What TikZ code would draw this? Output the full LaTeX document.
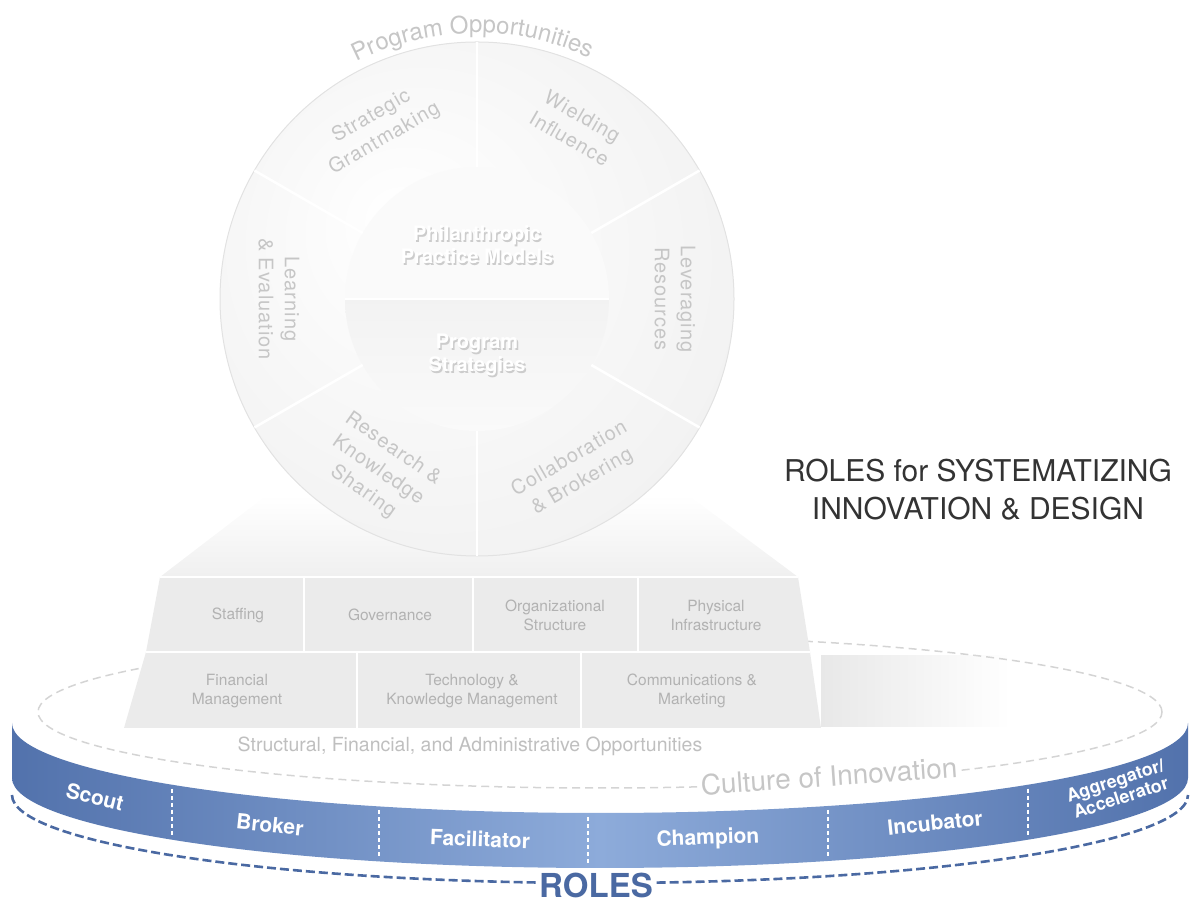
\documentclass[tikz,border=0pt]{standalone}
\usepackage{fontspec}
\setmainfont{TeX Gyre Heros}
\newfontfamily\ringfont[LetterSpace=5]{TeX Gyre Heros}
\usetikzlibrary{positioning,decorations.text,shadings,fadings}

\definecolor{ringtext}{HTML}{C6C6C6}
\definecolor{celltext}{HTML}{B2B2B2}
\definecolor{cellfill}{HTML}{EBEBEB}
\definecolor{titlegray}{HTML}{333333}
\definecolor{roleblue}{HTML}{4A69A2}
\definecolor{banddark}{HTML}{5272AC}
\definecolor{bandlight}{HTML}{8DABDA}
\definecolor{dashgray}{HTML}{D4D4D4}
\definecolor{ringmid}{HTML}{F2F2F2}
\definecolor{ringedge}{HTML}{E2E2E2}

\pgfdeclareradialshading{ringshade}{\pgfpoint{-8bp}{8bp}}{color(0bp)=(white); color(30bp)=(ringmid); color(50bp)=(ringedge)}

\tikzset{
  ringlabel/.style={text=ringtext, font=\ringfont\fontsize{20}{26}\selectfont, align=center},
  hublabel/.style={text=white, font=\bfseries\fontsize{20}{23}\selectfont, align=center},
  hubshadow/.style={text=black!20, font=\bfseries\fontsize{20}{23}\selectfont, align=center},
  celllabel/.style={text=celltext, font=\fontsize{15.5}{19}\selectfont, align=center},
  rolelabel/.style={text=white, font=\bfseries\fontsize{21}{23}\selectfont, align=center},
  divider/.style={white, line width=2.5pt},
  cellline/.style={white, line width=2pt},
  ringdash/.style={dashgray, dash pattern=on 8pt off 5pt, line width=1.5pt},
  roledash/.style={white, dash pattern=on 4pt off 3pt, line width=1.2pt},
  rolering/.style={roleblue, dash pattern=on 9pt off 4pt, line width=2.6pt}
}

\begin{document}
\begin{tikzpicture}[x=1pt, y=1pt]
  \useasboundingbox (0,0) rectangle (1197,907);

  % culture ring (top surface)
  \draw[ringdash] (600,195) ellipse [x radius=562, y radius=76];
  \fill[black!9, path fading=east] (821,180) rectangle (1010,252);

  % pedestal
  \shade[top color=white, bottom color=black!6] (267,412) -- (688,412) -- (798,330) -- (160,330) -- cycle;
  \fill[cellfill] (160,330) -- (798,330) -- (810,255) -- (146,255) -- cycle;
  \fill[cellfill] (146,255) -- (810,255) -- (821,179) -- (124,179) -- cycle;
  \draw[cellline] (160,330) -- (798,330);
  \draw[cellline] (146,255) -- (810,255);
  \foreach \xx in {304,473,638}
    \draw[cellline] (\xx,330) -- (\xx,255);
  \foreach \xx in {357,581}
    \draw[cellline] (\xx,255) -- (\xx,179);

  \node[celllabel] (staffing) at (238,292) {Staffing};
  \node[celllabel] (governance) at (390,292) {Governance};
  \node[celllabel] (orgstruct) at (555,292) {Organizational\\Structure};
  \node[celllabel] (physical) at (716,292) {Physical\\Infrastructure};
  \node[celllabel] (finance) at (237,216) {Financial\\Management};
  \node[celllabel] (techknow) at (472,216) {Technology \&\\Knowledge Management};
  \node[celllabel] (comms) at (692,216) {Communications \&\\Marketing};

  % practice wheel
  \coordinate (hub) at (477,608);
  \shade[shading=ringshade, draw=ringedge, line width=1pt] (hub) circle (257);
  \fill[black!2] ([shift={(0:132)}]hub) arc[start angle=0, end angle=180, radius=132] -- cycle;
  \shade[top color=black!5, bottom color=black!2] ([shift={(180:132)}]hub) arc[start angle=180, end angle=360, radius=132] -- cycle;
  \foreach \a in {90,30,-30,-90,-150,150}
    \draw[divider] ([shift={(\a:132)}]hub) -- ([shift={(\a:257)}]hub);
  \draw[divider] ([shift={(180:132)}]hub) -- ([shift={(0:132)}]hub);

  \path[decorate, decoration={text along path, text align=center,
      text={|\color{ringtext}\fontsize{24}{26}\selectfont|Program Opportunities}}]
    ([shift={(155:266)}]hub) arc[start angle=155, end angle=27, radius=266];

  \foreach \ang/\rot/\txt [count=\i] in {120/30/{Strategic\\Grantmaking}, 60/-30/{Wielding\\Influence},
      0/-90/{Leveraging\\Resources}, -60/30/{Collaboration\\\& Brokering},
      -120/-35/{Research \&\\Knowledge\\Sharing}, 180/-90/{Learning\\\& Evaluation}}
    \node[ringlabel, rotate=\rot] (seg-\i) at ([shift={(\ang:198)}]hub) {\txt};

  \node[hubshadow] (phil-sh) at (478.5,660.5) {Philanthropic\\Practice Models};
  \node[hublabel] (phil) at (477,662) {Philanthropic\\Practice Models};
  \node[hubshadow] (strat-sh) at (478.5,550.5) {Program\\Strategies};
  \node[hublabel] (strat) at (477,552) {Program\\Strategies};

  \node[text=black!25, font=\fontsize{19.5}{22}\selectfont] (admin) at (470,161)
    {Structural, Financial, and Administrative Opportunities};

  % title
  \node[text=titlegray, font=\fontsize{30}{38}\selectfont, align=center] (title) at (978,417)
    {ROLES for SYSTEMATIZING\\INNOVATION \& DESIGN};

  % roles band
  \shade[left color=banddark, right color=banddark, middle color=bandlight]
    (12,184) arc[start angle=180, end angle=360, x radius=588, y radius=90]
    -- (1188,129) arc[start angle=360, end angle=180, x radius=588, y radius=90] -- cycle;
  \foreach \xx in {172,379,588,828,1028}{
    \pgfmathsetmacro\s{sqrt(1-((\xx-600)/588)^2)}
    \draw[roledash] (\xx,{184-90*\s-4}) -- (\xx,{129-90*\s+4});
  }
  \node[rolelabel, rotate=-14] (scout) at (95,110) {Scout};
  \node[rolelabel, rotate=-6] (broker) at (270,82) {Broker};
  \node[rolelabel, rotate=-2] (facilitator) at (480,68) {Facilitator};
  \node[rolelabel, rotate=2] (champion) at (708,68) {Champion};
  \node[rolelabel, rotate=6] (incubator) at (935,84) {Incubator};
  \node[rolelabel, rotate=18, font=\bfseries\fontsize{18}{17}\selectfont] (aggregator) at (1118,118)
    {Aggregator/\\Accelerator};

  \draw[rolering] (12,112) arc[start angle=180, end angle=360, x radius=588, y radius=88];
  \node[text=roleblue, font=\bfseries\fontsize{33}{36}\selectfont, fill=white, inner sep=3pt] (roles) at (596,22) {ROLES};

  \node[text=ringtext, font=\fontsize{28}{30}\selectfont, rotate=4, fill=white, inner sep=2pt] (culture) at (829,131)
    {Culture of Innovation};
\end{tikzpicture}
\end{document}
